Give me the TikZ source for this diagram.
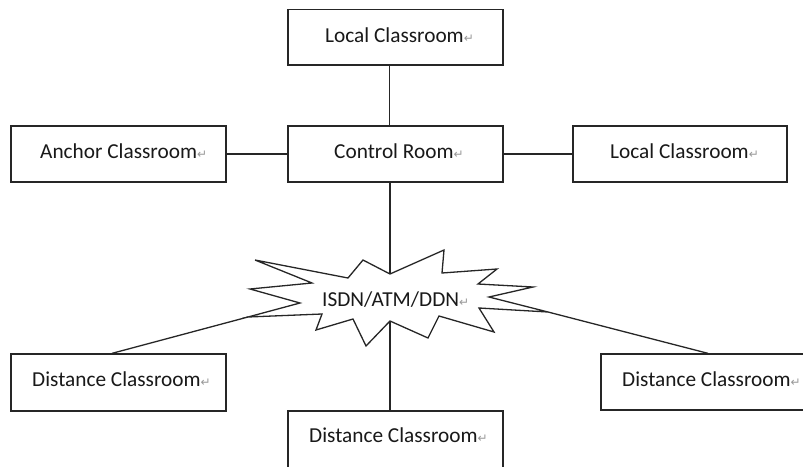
\documentclass[tikz,border=0pt]{standalone}
\usepackage{fontspec}
\setmainfont{Carlito}
\newfontfamily\symfont{DejaVu Sans}
% Word-style paragraph mark after every label
\newcommand\parmark{{\symfont\fontsize{12}{12}\selectfont\color{black!40}↵}}

\begin{document}
\begin{tikzpicture}[x=1pt,y=-1pt,
  box/.style={draw=black!85, line width=1.3pt, rectangle, inner sep=0pt, fill=white},
  lbl/.style={anchor=base west, inner sep=0pt, font=\fontsize{21.3}{24}\selectfont, text=black!90},
  link/.style={draw=black!85, line width=1.3pt, line join=miter}]

\useasboundingbox (0,0) rectangle (803,466);
\begin{scope}
\clip (0,0) rectangle (803,466);

% rooms
\node[box, minimum width=215pt, minimum height=55.5pt] (top)    at (395.5,37.25) {};
\node[box, minimum width=215pt, minimum height=56pt]   (ctrl)   at (395.5,154)   {};
\node[box, minimum width=215pt, minimum height=56pt]   (anchor) at (118.5,154)   {};
\node[box, minimum width=214pt, minimum height=56pt]   (rlocal) at (680,154)     {};
\node[box, minimum width=215pt, minimum height=57pt]   (dleft)  at (118.5,382.5) {};
\node[box, minimum width=215pt, minimum height=56pt]   (dright) at (708.5,382)   {};
\node[box, minimum width=215pt, minimum height=59pt]   (dbot)   at (395.5,440.5) {};

% labels
\node[lbl] (ttop)    at (325,42.5) {Local Classroom\parmark};
\node[lbl] (tctrl)   at (334,158)  {Control Room\parmark};
\node[lbl] (tanchor) at (40,158)   {Anchor Classroom\parmark};
\node[lbl] (trlocal) at (610,158)  {Local Classroom\parmark};
\node[lbl] (tdleft)  at (32,386.5) {Distance Classroom\parmark};
\node[lbl] (tdright) at (622,386.5){Distance Classroom\parmark};
\node[lbl] (tdbot)   at (309,442)  {Distance Classroom\parmark};

% network cloud (explosion shape)
\coordinate (sT) at (390,274);
\coordinate (sB) at (390,321);
\coordinate (sL) at (248,317);
\coordinate (sR) at (548,312);
\draw[link, fill=white]
  (255,260) -- (348,278) -- (363,260) -- (sT) -- (444,250) -- (442,273)
  -- (497,269) -- (478,284) -- (533,287) -- (489,297) -- (sR) -- (479,308)
  -- (494,332) -- (439,316) -- (428,338) -- (sB) -- (366,346) -- (353,319)
  -- (316,330) -- (322,314) -- (sL) -- (300,303) -- (250,289) -- (312,283)
  -- cycle;
\node[lbl] (net) at (322,306) {ISDN/ATM/DDN\parmark};

% connections
\draw[link] ([xshift=-6pt]top.south) -- ([xshift=-6pt]ctrl.north);
\draw[link] (anchor.east) -- (ctrl.west);
\draw[link] (ctrl.east) -- (rlocal.west);
\draw[link] (sT |- ctrl.south) -- (sT);
\draw[link] (sB) -- (sB |- dbot.north);
\draw[link] (sL) -- ([xshift=-6.5pt]dleft.north);
\draw[link] (sR) -- ([xshift=-0.5pt]dright.north);
\end{scope}
\end{tikzpicture}
\end{document}
